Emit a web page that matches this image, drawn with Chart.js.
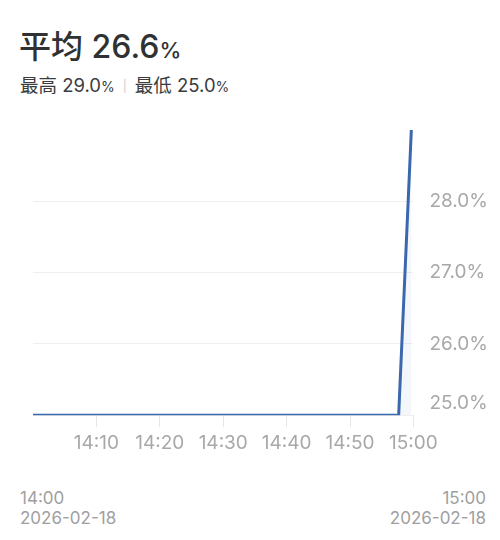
<!DOCTYPE html>
<html>
<head>
<meta charset="utf-8">
<script src="https://cdn.jsdelivr.net/npm/chart.js@4"></script>
<style>
    body { margin: 0; width: 500px; height: 540px; background: #fff; position: relative; overflow: hidden;
           font-family: Inter, "Noto Sans CJK SC", sans-serif; }
    .title { position: absolute; left: 19px; top: 21px; font-size: 32px; font-weight: 500; color: #2f3133; }
    .title .pct { font-size: 22px; }
    .sub { position: absolute; left: 20px; top: 71px; font-size: 18.5px; color: #3a3c3e; }
    .sub .pct { font-size: 14px; }
    .sub .sep { color: #ccc; font-size: 12px; margin: 0 8px; position: relative; top: -2px; }
    .wrap { position: absolute; left: 33px; top: 130px; width: 485px; height: 330px; }
    .foot { position: absolute; top: 488px; font-size: 17px; line-height: 20px; color: #a0a0a0; }
</style>
</head>
<body>
<div class="title">平均 26.6<span class="pct">%</span></div>
<div class="sub">最高 29.0<span class="pct">%</span><span class="sep">|</span>最低 25.0<span class="pct">%</span></div>
<div class="wrap"><canvas id="trend-chart"></canvas></div>
<div class="foot" style="left:20px;">14:00<br>2026-02-18</div>
<div class="foot" style="right:14px; text-align:right;">15:00<br>2026-02-18</div>
<script>
const times = ['14:00', '14:10', '14:20', '14:30', '14:40', '14:50', '14:57:40', '14:59:40'];
const values = [25.0, 25.0, 25.0, 25.0, 25.0, 25.0, 25.0, 29.0];
const xTicks = ['14:10', '14:20', '14:30', '14:40', '14:50', '15:00'];
const yTicks = [25, 26, 27, 28];

// minutes since 14:00
function toMin(t) {
    const p = t.split(':').map(Number);
    return (p[0] - 14) * 60 + p[1] + (p[2] || 0) / 60;
}
function fmt(m) {
    const h = 14 + Math.floor(m / 60);
    const mm = Math.round(m % 60);
    return h + ':' + String(mm).padStart(2, '0');
}

document.addEventListener("DOMContentLoaded", () => {
    const ctx = document.getElementById('trend-chart').getContext('2d');
    const points = times.map((t, i) => ({ x: toMin(t), y: values[i] }));
    const labelColor = '#a8a8a8';

    new Chart(ctx, {
        type: 'line',
        data: {
            datasets: [{
                data: points,
                borderColor: '#3a67ad',
                borderWidth: 3,
                backgroundColor: 'rgba(58, 103, 173, 0.06)',
                fill: 'start',
                pointRadius: 0,
                tension: 0
            }]
        },
        options: {
            responsive: true,
            maintainAspectRatio: false,
            animation: false,
            layout: { padding: { left: 0, right: 14, top: 0, bottom: 0 } },
            plugins: { legend: { display: false }, tooltip: { enabled: false } },
            scales: {
                x: {
                    type: 'linear',
                    min: 0,
                    max: 60,
                    afterBuildTicks: axis => {
                        axis.ticks = xTicks.map(t => ({ value: t === '15:00' ? 60 : toMin(t) }));
                    },
                    ticks: {
                        color: labelColor,
                        font: { size: 19, family: 'Inter' },
                        padding: 5,
                        maxRotation: 0,
                        autoSkip: false,
                        callback: v => fmt(v)
                    },
                    grid: { drawOnChartArea: false, tickLength: 12, color: '#e6e6e6' },
                    border: { display: false }
                },
                y: {
                    position: 'right',
                    min: 25,
                    max: 29,
                    afterBuildTicks: axis => {
                        axis.ticks = yTicks.map(v => ({ value: v }));
                    },
                    afterFit: axis => {
                        axis.paddingTop = 0;
                        axis.paddingBottom = 0;
                    },
                    ticks: {
                        color: labelColor,
                        font: { size: 19, family: 'Inter', lineHeight: '24px' },
                        padding: 16,
                        callback: v => v === 25 ? [v.toFixed(1) + '%', ''] : v.toFixed(1) + '%'
                    },
                    grid: { drawTicks: false, color: '#efefef' },
                    border: { display: false }
                }
            }
        }
    });
});
</script>
</body>
</html>
